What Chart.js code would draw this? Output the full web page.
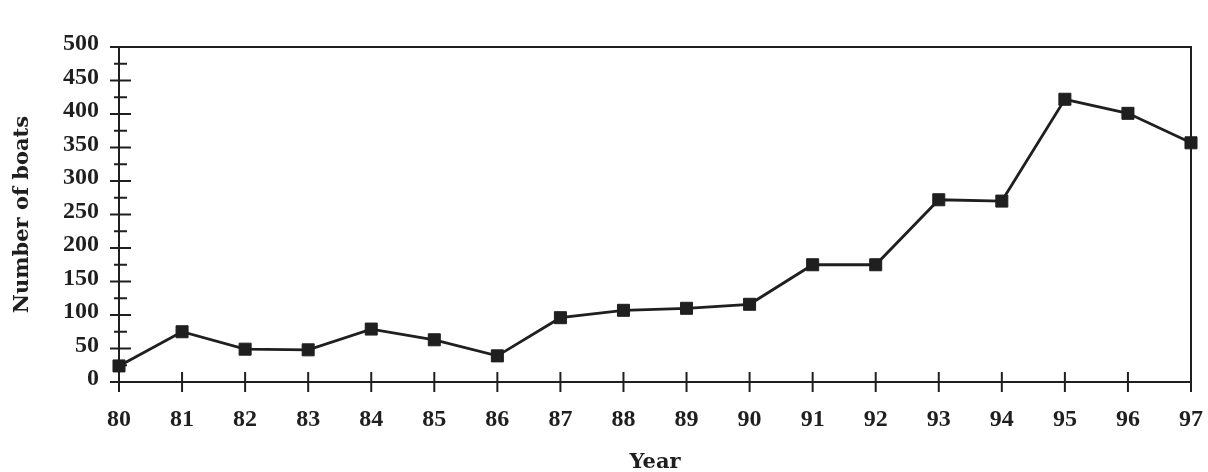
<!DOCTYPE html>
<html>
<head>
<meta charset="utf-8">
<title>Number of boats by year</title>
<script src="https://cdn.jsdelivr.net/npm/chart.js@4/dist/chart.umd.min.js"></script>
<style>
  html, body { margin: 0; padding: 0; background: #ffffff; }
  #wrap { width: 1208px; height: 472px; position: relative; }
</style>
</head>
<body>
<div id="wrap"><canvas id="chart" width="1208" height="472"></canvas></div>
<script>
// Years (two-digit labels) and number of boats per year
const years = ['80','81','82','83','84','85','86','87','88','89','90','91','92','93','94','95','96','97'];
const boats = [24, 75, 49, 48, 79, 63, 39, 96, 107, 110, 116, 175, 175, 272, 270, 422, 401, 357];

// Value axis range and tick spacing
const yMin = 0;
const yMax = 500;
const yMajorStep = 50;
const yMinorStep = 25;

const INK = '#1f1f1f';
const SERIF = '"Liberation Serif", "Times New Roman", serif';
const TITLE_SERIF = '"DejaVu Serif", "Liberation Serif", serif';

// Frame on top/right plus tick marks that cross the axes
const frameAndTicks = {
  id: 'frameAndTicks',
  beforeDatasetsDraw(chart) {
    const { ctx, chartArea: a, scales: { x, y } } = chart;
    ctx.save();
    ctx.strokeStyle = INK;
    ctx.lineWidth = 2;
    ctx.lineCap = 'butt';
    // top and right border
    ctx.beginPath();
    ctx.moveTo(a.left, a.top);
    ctx.lineTo(a.right, a.top);
    ctx.lineTo(a.right, a.bottom);
    ctx.stroke();
    // y ticks: major every 50, minor every 25
    for (let v = yMin; v <= yMax; v += yMinorStep) {
      const py = y.getPixelForValue(v);
      const major = (v % yMajorStep) === 0;
      ctx.beginPath();
      ctx.moveTo(a.left - (major ? 9 : 5), py);
      ctx.lineTo(a.left + (major ? 12 : 8), py);
      ctx.stroke();
    }
    // x ticks at each year
    years.forEach((_, i) => {
      const px = x.getPixelForValue(i);
      ctx.beginPath();
      ctx.moveTo(px, a.bottom - 10);
      ctx.lineTo(px, a.bottom + 10);
      ctx.stroke();
    });
    ctx.restore();
  }
};

new Chart(document.getElementById('chart'), {
  type: 'line',
  data: {
    labels: years,
    datasets: [{
      data: boats,
      borderColor: INK,
      borderWidth: 2.8,
      backgroundColor: INK,
      pointStyle: 'rect',
      pointRadius: 8.5,
      pointBorderWidth: 1,
      pointBorderColor: INK,
      pointBackgroundColor: INK,
      tension: 0,
      fill: false
    }]
  },
  options: {
    responsive: false,
    animation: false,
    events: [],
    layout: { padding: { left: 0, right: 17, top: 47, bottom: 0 } },
    plugins: { legend: { display: false }, tooltip: { enabled: false } },
    scales: {
      x: {
        type: 'category',
        offset: false,
        grid: { display: false, drawTicks: false },
        border: { display: true, color: INK, width: 2 },
        ticks: {
          color: INK,
          padding: 23,
          maxRotation: 0,
          autoSkip: false,
          font: { family: SERIF, size: 24, weight: 'bold' }
        },
        title: {
          display: true,
          text: 'Year',
          color: INK,
          font: { family: TITLE_SERIF, size: 21, weight: 'bold', lineHeight: 1 },
          padding: { top: 0, bottom: -1 }
        },
        afterFit(scale) {
          scale.height = 90;
          // keep label spacing from widening the side margins
          scale.paddingLeft = 0;
          scale.paddingRight = 0;
        }
      },
      y: {
        min: yMin,
        max: yMax,
        grid: { display: false, drawTicks: false },
        border: { display: true, color: INK, width: 2 },
        ticks: {
          stepSize: yMajorStep,
          color: INK,
          padding: 20,
          labelOffset: -3,
          font: { family: SERIF, size: 24, weight: 'bold' }
        },
        title: {
          display: true,
          text: 'Number of boats',
          color: INK,
          font: { family: TITLE_SERIF, size: 21, weight: 'bold', lineHeight: 1 },
          padding: { top: 12, bottom: 0 }
        },
        afterFit(scale) { scale.width = 119; }
      }
    }
  },
  plugins: [frameAndTicks]
});
</script>
</body>
</html>
